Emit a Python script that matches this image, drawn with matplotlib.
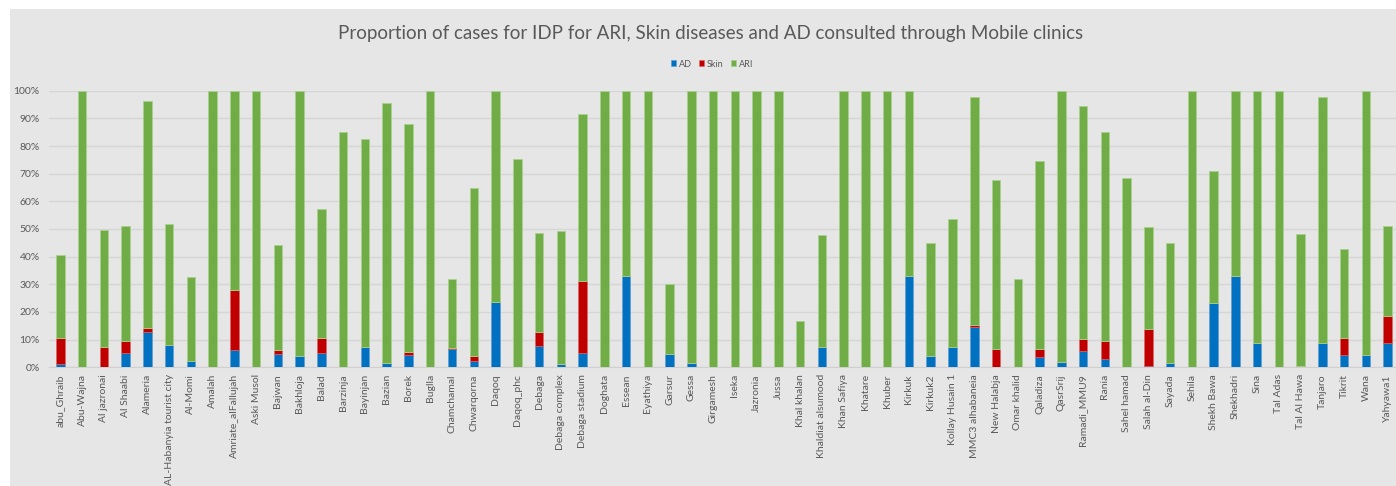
import numpy as np
import matplotlib
matplotlib.use('Agg')
import matplotlib.pyplot as plt
from matplotlib.ticker import FuncFormatter, MultipleLocator
from matplotlib.patches import Rectangle

plt.rcParams['font.family'] = ['Lato', 'DejaVu Sans']

sites = ['abu_Ghraib', 'Abu-Wajna', 'Al jazronai', 'Al Shaabi', 'Alameria',
         'AL-Habanyia tourist city', 'Al-Momi', 'Amalah', 'Amriate_alFallujah',
         'Aski Musol', 'Bajwan', 'Bakhloja', 'Balad', 'Barzinja', 'Bayinjan',
         'Bazian', 'Borek', 'Buglla', 'Chamchamal', 'Chwarqorna', 'Daqoq',
         'Daqoq_phc', 'Debaga', 'Debaga complex', 'Debaga stadium', 'Doghata',
         'Essean', 'Eyathiya', 'Garsur', 'Gessa', 'Girgamesh', 'Iseka',
         'Jazronia', 'Jussa', 'Khal khalan', 'Khaldiat alsumood', 'Khan Safiya',
         'Khatare', 'Khuber', 'Kirkuk', 'Kirkuk2', 'Kollay Husain 1',
         'MMC3 alhabaneia', 'New Halabja', 'Omar khalid', 'Qaladiza', 'QasrSrij',
         'Ramadi_MMU9', 'Rania', 'Sahel hamad', 'Salah al-Din', 'Sayada',
         'Sehila', 'Shekh Bawa', 'Shekhadri', 'Sina', 'Tal Adas', 'Tal Al Hawa',
         'Tanjaro', 'Tikrit', 'Wana', 'Yahyawa1']

# shares in percent
ad = [1.3, 0, 0, 5.1, 12.9, 8.1, 2.3, 0, 6.4, 0, 4.7, 4.1, 5.1, 0, 7.3,
      1.6, 4.3, 0, 6.5, 2.3, 23.6, 0, 7.8, 1.2, 5.1, 0, 33.1, 0, 4.7, 1.6,
      0, 0, 0, 0, 0, 7.3, 0, 0, 0, 33.1, 4.0, 7.3, 14.6, 0, 0, 3.6, 1.9,
      6.0, 3.0, 0, 0.6, 1.6, 0, 23.3, 33.1, 8.8, 0, 0.6, 8.8, 4.3, 4.6, 8.8]
skin = [9.2, 0, 7.3, 4.4, 1.4, 0, 0, 0, 21.6, 0, 1.4, 0, 5.4, 0, 0,
        0, 1.1, 0, 0.4, 1.7, 0, 0, 4.9, 0, 26.1, 0, 0, 0, 0, 0,
        0, 0, 0, 0, 0, 0, 0, 0, 0, 0, 0, 0, 0.7, 6.7, 0, 3.1, 0,
        4.1, 6.4, 0, 13.3, 0, 0, 0, 0, 0, 0, 0, 0, 6.2, 0, 9.6]
ari = [30.1, 100, 42.3, 41.5, 82.0, 43.8, 30.5, 100, 72.0, 100, 38.0, 95.9, 46.6, 84.9, 75.1,
       93.9, 82.7, 100, 24.9, 60.7, 76.4, 75.3, 35.9, 48.1, 60.2, 100, 66.9, 100, 25.4, 98.4,
       100, 100, 100, 100, 16.6, 40.5, 100, 100, 100, 66.9, 41.1, 46.4, 82.3, 61.0, 32.0, 67.9, 98.1,
       84.5, 75.5, 68.4, 36.7, 43.5, 100, 47.5, 66.9, 91.2, 100, 47.6, 88.8, 32.3, 95.4, 32.6]

ad = np.array(ad) / 100
skin = np.array(skin) / 100
ari = np.array(ari) / 100

c_ad = '#0070C0'
c_skin = '#C00000'
c_ari = '#70AD47'
bg = '#E6E6E6'
txt = '#595959'

fig = plt.figure(figsize=(13.96, 4.86), dpi=100, facecolor='white')
fig.patches.append(Rectangle((10 / 1396, 0), 1, 1 - 9 / 486, transform=fig.transFigure,
                             facecolor=bg, edgecolor='none', zorder=-10))

ax = fig.add_axes([49.4 / 1396, 118.7 / 486, (1396 - 49.4) / 1396, 276.6 / 486])
ax.set_facecolor(bg)
x = np.arange(len(sites))
w = 0.39
ax.bar(x, ad, w, color=c_ad, label='AD', edgecolor='#5B9BD5', linewidth=0.4, zorder=3)
ax.bar(x, skin, w, bottom=ad, color=c_skin, label='Skin', edgecolor='#E06666', linewidth=0.4, zorder=3)
ax.bar(x, ari, w, bottom=ad + skin, color=c_ari, label='ARI', edgecolor='#A9D18E', linewidth=0.6, zorder=3)

ax.set_xlim(-0.5, 61.38)
ax.set_ylim(0, 1.0)
ax.yaxis.set_major_locator(MultipleLocator(0.1))
ax.yaxis.set_major_formatter(FuncFormatter(lambda v, p: '%d%%' % round(v * 100)))
ax.grid(axis='y', color='#D6D6D6', linewidth=1, zorder=0)
for s in ['top', 'right', 'left']:
    ax.spines[s].set_visible(False)
ax.spines['bottom'].set_color('#D0D0D0')
ax.tick_params(axis='both', length=0, colors=txt)
ax.tick_params(axis='y', pad=7, labelsize=7.5)
ax.tick_params(axis='x', pad=5)
ax.set_xticks(x)
ax.set_xticklabels(sites, rotation=90, fontsize=7.5, color=txt)

fig.text(711 / 1396, 1 - 33 / 486, 'Proportion of cases for IDP for ARI, Skin diseases and AD consulted through Mobile clinics',
         ha='center', va='center', fontsize=13.5, color=txt)
fig.legend(loc='center', bbox_to_anchor=(712 / 1396, 1 - 64 / 486), ncol=3, frameon=False,
           fontsize=6.5, handlelength=0.6, handleheight=0.6, handletextpad=0.3, columnspacing=0.8,
           labelcolor=txt)

fig.savefig('out.png', dpi=100, facecolor=fig.get_facecolor())
